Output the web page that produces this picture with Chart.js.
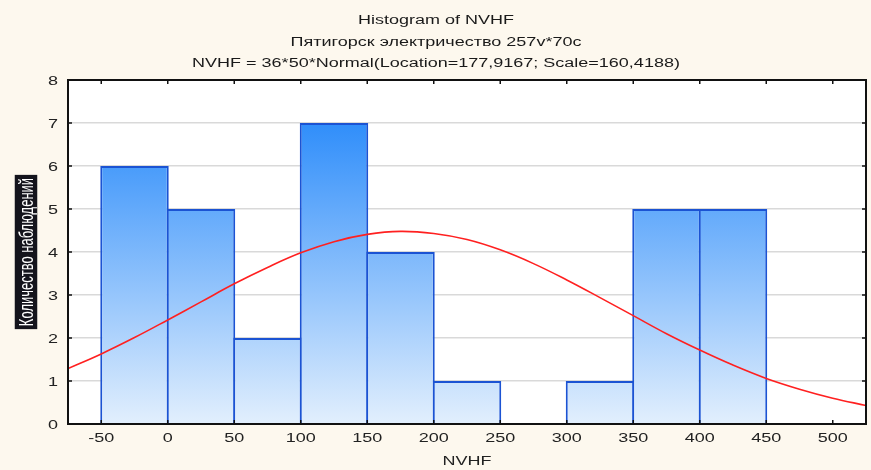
<!DOCTYPE html>
<html>
<head>
<meta charset="utf-8">
<script src="https://cdn.jsdelivr.net/npm/chart.js@4.4.1/dist/chart.umd.min.js"></script>
<style>
  body { margin: 0; background: #fdf8ee; }
  #wrap { width: 871px; height: 470px; position: relative; }
</style>
</head>
<body>
<div id="wrap"><canvas id="hist"></canvas></div>
<script>
// histogram bins (lower edges) and counts
const binStarts = [-50, 0, 50, 100, 150, 200, 250, 300, 350, 400];
const binWidth = 50;
const counts = [6, 5, 2, 7, 4, 1, 0, 1, 5, 5];

// fitted normal curve, sampled every 25
const curveX = [-75, -50, -25, 0, 25, 50, 75, 100, 125, 150, 175, 200, 225,
  250, 275, 300, 325, 350, 375, 400, 425, 450, 475, 500, 525];
const curveY = [1.29, 1.63, 2.01, 2.42, 2.84, 3.26, 3.64, 3.98, 4.24, 4.41, 4.48, 4.43, 4.29,
  4.05, 3.73, 3.35, 2.94, 2.52, 2.10, 1.72, 1.37, 1.06, 0.81, 0.60, 0.43];

const xTicks = [-50, 0, 50, 100, 150, 200, 250, 300, 350, 400, 450, 500];
const yTicks = [0, 1, 2, 3, 4, 5, 6, 7, 8];

const titleLines = [
  'Histogram of NVHF',
  'Пятигорск электричество 257v*70c',
  'NVHF = 36*50*Normal(Location=177,9167; Scale=160,4188)'
];
const xLabel = 'NVHF';
const yLabel = 'Количество наблюдений';

const FONT = "'Liberation Sans', Arial, sans-serif";
const STRETCH = 1.5; // text is drawn wide

function barGradient(context) {
  const chart = context.chart;
  const area = chart.chartArea;
  if (!area) return '#5aa8fb';
  const g = chart.ctx.createLinearGradient(0, area.top, 0, area.bottom);
  g.addColorStop(0, '#1680fa');
  g.addColorStop(1, '#e2effd');
  return g;
}

// horizontally stretched text
function wideText(ctx, text, x, y, align) {
  ctx.save();
  ctx.translate(x, y);
  ctx.scale(STRETCH, 1);
  ctx.textAlign = align;
  ctx.textBaseline = 'alphabetic';
  ctx.fillText(text, 0, 0);
  ctx.restore();
}

// white plot area, frame with inward ticks, all text
const framePlugin = {
  id: 'frame',
  beforeDraw(chart) {
    const { ctx, chartArea: a } = chart;
    ctx.save();
    ctx.fillStyle = '#ffffff';
    ctx.fillRect(a.left, a.top, a.right - a.left, a.bottom - a.top);
    ctx.restore();
  },
  afterDraw(chart) {
    const { ctx, chartArea: a, scales } = chart;
    ctx.save();
    ctx.strokeStyle = '#111';
    ctx.lineWidth = 1.5;
    ctx.beginPath();
    xTicks.forEach(v => {
      const px = scales.x.getPixelForValue(v);
      ctx.moveTo(px, a.bottom); ctx.lineTo(px, a.bottom - 4);
      ctx.moveTo(px, a.top); ctx.lineTo(px, a.top + 4);
    });
    yTicks.forEach(v => {
      const py = scales.y.getPixelForValue(v);
      ctx.moveTo(a.left, py); ctx.lineTo(a.left + 4, py);
      ctx.moveTo(a.right, py); ctx.lineTo(a.right - 4, py);
    });
    ctx.stroke();
    ctx.lineWidth = 2;
    ctx.strokeRect(a.left, a.top, a.right - a.left, a.bottom - a.top);

    ctx.font = '12px ' + FONT;
    ctx.fillStyle = '#1a1a1a';
    const cx = (a.left + a.right) / 2;
    titleLines.forEach((t, i) => wideText(ctx, t, 436, 24 + i * 21.5, 'center'));

    ctx.fillStyle = '#222';
    xTicks.forEach(v => wideText(ctx, String(v), scales.x.getPixelForValue(v), a.bottom + 18, 'center'));
    yTicks.forEach(v => wideText(ctx, String(v), a.left - 10, scales.y.getPixelForValue(v) + 4.5, 'right'));
    wideText(ctx, xLabel, cx, a.bottom + 41, 'center');

    // rotated y-axis title on a dark box
    const cy = (a.top + a.bottom) / 2;
    ctx.translate(26, cy);
    ctx.scale(STRETCH, 1);
    ctx.rotate(-Math.PI / 2);
    ctx.font = '13px ' + FONT;
    const w = ctx.measureText(yLabel).width + 6;
    ctx.fillStyle = '#14141c';
    ctx.fillRect(-w / 2, -7.5, w, 15);
    ctx.fillStyle = '#ffffff';
    ctx.textAlign = 'center';
    ctx.textBaseline = 'middle';
    ctx.fillText(yLabel, 0, 1);
    ctx.restore();
  }
};

new Chart(document.getElementById('hist'), {
  type: 'bar',
  data: {
    datasets: [
      {
        type: 'line',
        data: curveX.map((x, i) => ({ x: x, y: curveY[i] })),
        borderColor: '#ff2020',
        borderWidth: 1.6,
        pointRadius: 0,
        tension: 0.4,
        order: 0
      },
      {
        type: 'bar',
        data: counts.map((c, i) => ({ x: binStarts[i] + binWidth / 2, y: c })),
        backgroundColor: barGradient,
        borderColor: '#1b53d3',
        borderWidth: ctx => (ctx.raw && ctx.raw.y > 0 ? 2 : 0),
        borderSkipped: 'start',
        barPercentage: 1.03,
        categoryPercentage: 1,
        grouped: false,
        order: 1
      }
    ]
  },
  options: {
    responsive: true,
    maintainAspectRatio: false,
    animation: false,
    layout: { padding: { left: 0, right: 5, top: 80, bottom: 0 } },
    plugins: {
      legend: { display: false },
      tooltip: { enabled: false },
      title: { display: false }
    },
    scales: {
      x: {
        type: 'linear',
        min: -75,
        max: 525,
        offset: false,
        afterBuildTicks: s => { s.ticks = xTicks.map(v => ({ value: v })); },
        afterFit: s => { s.height = 46; },
        grid: { display: false, offset: false },
        border: { display: false },
        ticks: { display: false }
      },
      y: {
        min: 0,
        max: 8,
        afterBuildTicks: s => { s.ticks = yTicks.map(v => ({ value: v })); },
        afterFit: s => { s.width = 68; },
        grid: { color: '#d9d9d9', lineWidth: 1.5, drawTicks: false },
        border: { display: false },
        ticks: { display: false }
      }
    }
  },
  plugins: [framePlugin]
});
</script>
</body>
</html>
